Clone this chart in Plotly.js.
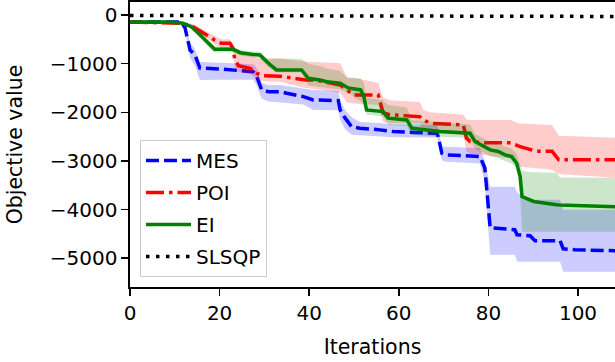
<!DOCTYPE html>
<html><head><meta charset="utf-8">
<script src="https://cdn.plot.ly/plotly-3.0.1.min.js"></script>
<style>html,body{margin:0;padding:0;background:#fff}#chart{width:615px;height:362px}</style>
</head><body><div id="chart"></div>
<script>
// ---- data ----
const xTicks = [0, 20, 40, 60, 80, 100];
const yTicks = [0, -1000, -2000, -3000, -4000, -5000];

const mesX = [0, 11.5, 12.3, 13.4, 14.5, 15.6, 20, 27.5, 28.3, 29.4, 30.9, 33.5, 35, 38.7, 40.9, 46.5, 46.9, 48, 49.5, 51.3, 55.8, 58.8, 68.5, 68.8, 69.6, 70.7, 78.1, 79.2, 80.4, 85.9, 86.4, 89.3, 90.4, 96, 96.7, 99.3, 108.5];
const mesMean = [-145, -145, -270, -720, -820, -1090, -1110, -1165, -1267, -1540, -1575, -1575, -1607, -1677, -1745, -1760, -1950, -2115, -2300, -2326, -2361, -2396, -2430, -2500, -2840, -2874, -2910, -3140, -4373, -4414, -4517, -4537, -4640, -4640, -4804, -4825, -4845];
const mesUpper = [-125, -125, -200, -560, -700, -965, -980, -1010, -1100, -1400, -1437, -1437, -1460, -1520, -1540, -1560, -1750, -1950, -2100, -2200, -2220, -2250, -2260, -2330, -2700, -2710, -2740, -3000, -3531, -3531, -3650, -3798, -3798, -3798, -4003, -4003, -4003];
const mesLower = [-165, -165, -330, -880, -1050, -1335, -1330, -1330, -1450, -1720, -1780, -1790, -1810, -1840, -1950, -1960, -2150, -2350, -2460, -2470, -2500, -2510, -2520, -2600, -2990, -3018, -3050, -3450, -4927, -4927, -5071, -5071, -5071, -5071, -5276, -5276, -5276];

const poiX = [0, 11.2, 13.8, 14.5, 17.1, 18.9, 20.4, 22.3, 23, 23.4, 24.2, 26.8, 28.3, 29.7, 33.5, 39.2, 41.3, 44.6, 46.9, 48.4, 49.9, 55.4, 56.5, 58, 64.7, 65.5, 67, 74.4, 75.1, 75.9, 79.6, 85, 86.9, 90.6, 94.2, 95.7, 108.5];
const poiMean = [-145, -170, -226, -267, -404, -513, -581, -581, -684, -924, -1040, -1095, -1200, -1250, -1260, -1334, -1334, -1400, -1437, -1540, -1642, -1642, -2012, -2050, -2090, -2156, -2225, -2258, -2530, -2600, -2628, -2628, -2700, -2800, -2800, -2977, -2977];
const poiUpper = [-125, -150, -180, -200, -340, -430, -500, -500, -600, -780, -780, -800, -890, -890, -890, -960, -965, -980, -990, -1280, -1290, -1400, -1700, -1750, -1790, -1950, -2000, -2050, -2150, -2156, -2156, -2156, -2230, -2250, -2260, -2480, -2525];
const poiLower = [-165, -190, -270, -330, -470, -600, -680, -680, -780, -1100, -1170, -1200, -1330, -1360, -1370, -1500, -1520, -1560, -1600, -1800, -1820, -1850, -2200, -2220, -2230, -2400, -2420, -2460, -2800, -2850, -2880, -2950, -3120, -3150, -3180, -3270, -3346];

const eiX = [0, 8.9, 11.8, 13.7, 15.2, 16.3, 17.4, 18.9, 23, 24.6, 27.5, 29, 30.9, 32.7, 38.3, 39.8, 42.4, 43.9, 46.9, 48.7, 51.5, 52.2, 52.8, 56.5, 57.6, 61.8, 62.9, 69.2, 75.9, 77, 80.4, 82.2, 83.7, 85.2, 86.3, 87.1, 87.5, 88.6, 90.1, 95.2, 96, 108.5];
const eiMean = [-145, -145, -170, -240, -370, -475, -581, -705, -705, -775, -810, -821, -992, -1129, -1129, -1300, -1334, -1370, -1400, -1499, -1540, -1680, -1950, -1985, -2120, -2156, -2326, -2396, -2430, -2600, -2772, -2806, -2875, -2910, -3045, -3320, -3730, -3765, -3832, -3900, -3905, -3940];
const eiUpper = [-125, -125, -150, -200, -320, -420, -520, -640, -650, -720, -750, -760, -920, -900, -900, -1000, -1050, -1100, -1150, -1300, -1300, -1400, -1700, -1750, -1850, -1900, -2160, -2200, -2250, -2450, -2600, -2650, -2700, -2750, -2850, -3100, -3200, -3220, -3230, -3240, -3340, -3346];
const eiLower = [-165, -165, -190, -280, -430, -540, -650, -770, -760, -830, -870, -890, -1080, -1180, -1180, -1450, -1480, -1500, -1530, -1600, -1780, -1850, -2050, -2080, -2260, -2280, -2460, -2500, -2530, -2750, -2900, -2950, -3000, -3050, -3150, -3700, -4455, -4455, -4455, -4455, -4455, -4455];

const slsqpX = [0, 108.5];
const slsqpY = [-10, -30];

// ---- chart ----
const FONT = 'DejaVu Sans, Verdana, sans-serif';
function band(x, lo, up, fillcolor, grp) {
  return [
    {x: x, y: lo, type: 'scatter', mode: 'lines', line: {width: 0}, showlegend: false, hoverinfo: 'skip', legendgroup: grp},
    {x: x, y: up, type: 'scatter', mode: 'lines', line: {width: 0}, fill: 'tonexty', fillcolor: fillcolor, showlegend: false, hoverinfo: 'skip', legendgroup: grp}
  ];
}
const traces = [].concat(
  band(mesX, mesLower, mesUpper, 'rgba(0,0,255,0.2)', 'g1'),
  [{x: mesX, y: mesMean, name: 'MES', legendgroup: 'g1', type: 'scatter', mode: 'lines', line: {color: '#0000ff', width: 3.5, dash: '13px,5px'}}],
  band(poiX, poiLower, poiUpper, 'rgba(255,0,0,0.2)', 'g2'),
  [{x: poiX, y: poiMean, name: 'POI', legendgroup: 'g2', type: 'scatter', mode: 'lines', line: {color: '#ff0000', width: 3.5, dash: '18px,5px,3.5px,5px'}}],
  band(eiX, eiLower, eiUpper, 'rgba(0,128,0,0.2)', 'g3'),
  [{x: eiX, y: eiMean, name: 'EI', legendgroup: 'g3', type: 'scatter', mode: 'lines', line: {color: '#008000', width: 3.5}}],
  [{x: slsqpX, y: slsqpY, name: 'SLSQP', legendgroup: 'g4', type: 'scatter', mode: 'lines', line: {color: '#000000', width: 3.5, dash: '3.5px,6.5px'}}]
);

const layout = {
  width: 615, height: 362,
  margin: {l: 130, r: 0, t: 2, b: 75, pad: 0},
  paper_bgcolor: '#ffffff', plot_bgcolor: '#ffffff',
  font: {family: FONT, size: 20, color: '#000000'},
  showlegend: true,
  xaxis: {
    range: [0, 108.26], tickmode: 'array', tickvals: xTicks,
    ticks: 'outside', ticklen: 7, tickwidth: 1.6, tickcolor: '#000000',
    showline: true, linecolor: '#000000', linewidth: 1.6, mirror: true,
    showgrid: false, zeroline: false,
    title: {text: 'Iterations', font: {size: 20.5}, standoff: 16}
  },
  yaxis: {
    range: [-5590, 267], tickmode: 'array', tickvals: yTicks,
    ticks: 'outside', ticklen: 7, tickwidth: 1.6, tickcolor: '#000000',
    showline: true, linecolor: '#000000', linewidth: 1.6,
    showgrid: false, zeroline: false,
    title: {text: 'Objective value', font: {size: 20.5}, standoff: 21}
  },
  legend: {
    x: 0.0206, y: 0.035, xanchor: 'left', yanchor: 'bottom',
    traceorder: 'grouped', tracegroupgap: 3,
    bgcolor: 'rgba(255,255,255,0.8)', bordercolor: '#cccccc', borderwidth: 1,
    font: {size: 20}, itemwidth: 45, entrywidth: 135, entrywidthmode: 'pixels'
  }
};

Plotly.newPlot('chart', traces, layout, {staticPlot: true, displayModeBar: false});
</script>
</body></html>
